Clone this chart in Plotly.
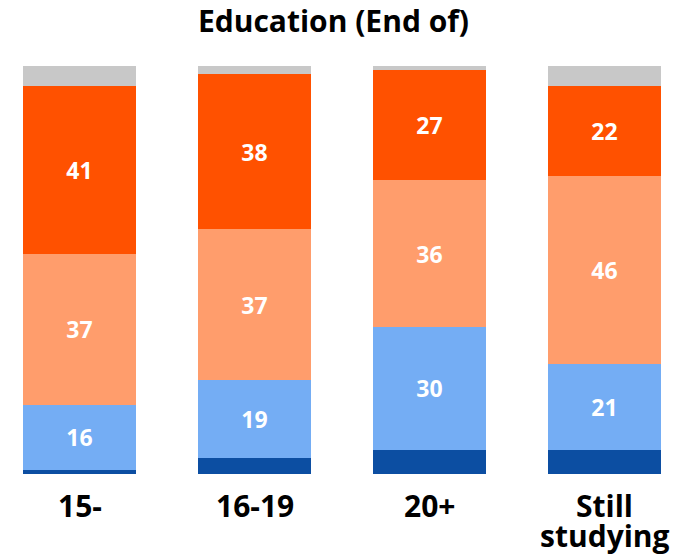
import plotly.graph_objects as go

categories = ["15-", "16-19", "20+", "Still<br>studying"]
dark_blue = [1, 4, 6, 6]
light_blue = [16, 19, 30, 21]
light_orange = [37, 37, 36, 46]
orange = [41, 38, 27, 22]
gray = [5, 2, 1, 5]

FONT = "Open Sans"

series = [
    ("dark", dark_blue, "#0c4ea2", False),
    ("light blue", light_blue, "#74adf4", True),
    ("light orange", light_orange, "#ff9d6c", True),
    ("orange", orange, "#ff5100", True),
    ("gray", gray, "#c8c8c8", False),
]

fig = go.Figure()
for name, vals, color, show in series:
    fig.add_trace(go.Bar(
        x=list(range(len(categories))), y=vals, name=name,
        marker=dict(color=color, line=dict(width=0)),
        width=0.646,
        text=[str(v) for v in vals] if show else None,
        texttemplate="<b>%{text}</b>" if show else None,
        textposition="inside" if show else "none",
        insidetextanchor="middle",
        textfont=dict(color="white", size=23, family=FONT),
        hoverinfo="skip",
    ))

# category labels as annotations (tight line spacing like the reference)
for i, cat in enumerate(categories):
    for k, line in enumerate(cat.split("<br>")):
        fig.add_annotation(
            x=i, y=0, xref="x", yref="paper",
            text="<b>" + line + "</b>", showarrow=False,
            xanchor="center", yanchor="top",
            yshift=-(9 + 30 * k),
            font=dict(family=FONT, size=30, color="black"),
        )

fig.update_layout(
    barmode="stack",
    width=691, height=552,
    margin=dict(l=0, r=0, t=58, b=86),
    paper_bgcolor="white", plot_bgcolor="white",
    showlegend=False,
    uniformtext=dict(mode="show", minsize=23),
    title=dict(text="<b>Education (End of)</b>", x=0.471, xanchor="center",
               y=0.975, yanchor="middle",
               font=dict(family=FONT, size=30, color="black")),
    font=dict(family=FONT),
)
fig.update_xaxes(
    range=[-0.4086, 3.54], showgrid=False, zeroline=False, showline=False,
    showticklabels=False, ticks="",
)
fig.update_yaxes(range=[0, 100], visible=False, showgrid=False, zeroline=False)

fig.write_html("out.html")
